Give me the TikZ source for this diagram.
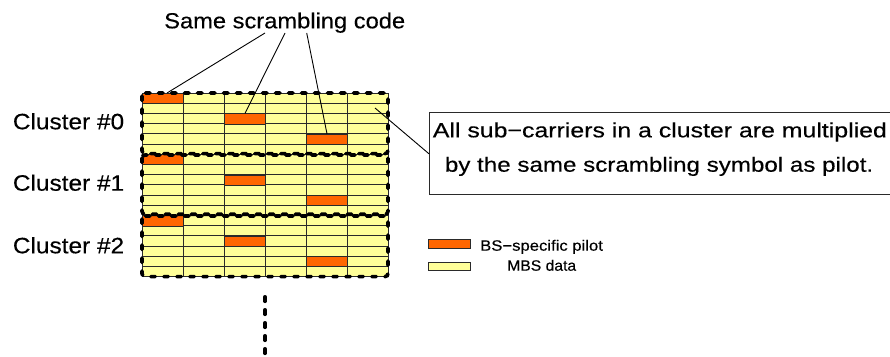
\documentclass[tikz,border=0pt]{standalone}
\usepackage{fontspec}
\setmainfont{Liberation Sans}[FakeBold=0.3]
\usepackage{graphicx}
\usetikzlibrary{calc}
\definecolor{cellyellow}{HTML}{FFFF99}
\definecolor{pilotorange}{HTML}{FF6600}
\definecolor{gridline}{HTML}{2A2A2A}
\newcommand{\fitw}[3]{\resizebox{#1pt}{\height}{\fontsize{#2pt}{#2pt}\selectfont #3}}
\begin{document}
\begin{tikzpicture}[x=1pt,y=-1pt,
  txt/.style={inner sep=0pt, anchor=base west},
  pilot/.style={draw=gridline, line width=1pt, fill=pilotorange, minimum width=41pt, minimum height=10.2pt, inner sep=0pt, anchor=north west},
  clusterbox/.style={line width=3.6pt, dash pattern=on 4.5pt off 8.5pt, line cap=round, rounded corners=3pt},
  thinline/.style={line width=0.9pt},
  legendbox/.style={draw=gridline, line width=0.9pt, minimum width=41.7pt, inner sep=0pt, anchor=north west}]
\useasboundingbox (0,0) rectangle (890,356);

% grid
\fill[cellyellow] (142,93) rectangle (388,276.6);
\foreach \i in {0,...,18} \draw[gridline, line width=1pt] (142,{93+10.2*\i}) -- (388,{93+10.2*\i});
\foreach \j in {0,...,6} \draw[gridline, line width=1pt] ({142+41*\j},93) -- ({142+41*\j},276.6);

% pilots
\foreach \c in {0,1,2} {
  \foreach \k in {0,1,2} {
    \node[pilot] (p\c\k) at ({142+82*\k},{93+10.2*(6*\c+2*\k)}) {};
  }
}

% cluster boxes
\draw[clusterbox] (142,93) rectangle (388,153.6);
\draw[clusterbox] (142,155) rectangle (388,214.2);
\draw[clusterbox] (142,216) rectangle (388,276.6);

% title and its connectors
\node[txt] (title) at (164,28.3) {\fitw{241}{21.8}{Same scrambling code}};
\coordinate (s1) at (265,33);
\coordinate (s2) at (285,33);
\coordinate (s3) at (306.7,33);
\draw[thinline] (s1) -- ($(p00.north)+(4,0)$);
\draw[thinline] (s2) -- (p01.north);
\draw[thinline] (s3) -- (p02.north);

% cluster labels
\node[txt] (cl0) at (12.7,129.3) {\fitw{111.3}{22.3}{Cluster \#0}};
\node[txt] (cl1) at (12.7,190.7) {\fitw{111.3}{22.3}{Cluster \#1}};
\node[txt] (cl2) at (12.7,253.3) {\fitw{111.3}{22.3}{Cluster \#2}};

% note box
\node[draw=gridline, line width=1pt, minimum width=480pt, minimum height=82pt, anchor=north west, inner sep=0pt] (note) at (429,112.3) {};
\node[txt] (l1) at (432.7,137.3) {\fitw{454}{20.5}{All sub−carriers in a cluster are multiplied}};
\node[txt] (l2) at (444.7,171.7) {\fitw{428.3}{20.5}{by the same scrambling symbol as pilot.}};
\coordinate (c1) at (375,108);
\draw[thinline] (c1) -- (note.west);

% legend
\node[legendbox, fill=pilotorange, minimum height=9pt] (lp) at (428.3,239.3) {};
\node[legendbox, fill=cellyellow, minimum height=8.3pt] (ld) at (428.3,261.7) {};
\node[txt] (lpt) at (480,250.7) {\fitw{122.7}{15}{BS−specific pilot}};
\node[txt] (ldt) at (507,270.7) {\fitw{69}{15}{MBS data}};

% continuation
\coordinate (v1) at (265,296.8);
\coordinate (v2) at (265,362);
\draw[line width=3.6pt, dash pattern=on 4.5pt off 8.5pt, line cap=round] (v1) -- (v2);
\end{tikzpicture}
\end{document}
